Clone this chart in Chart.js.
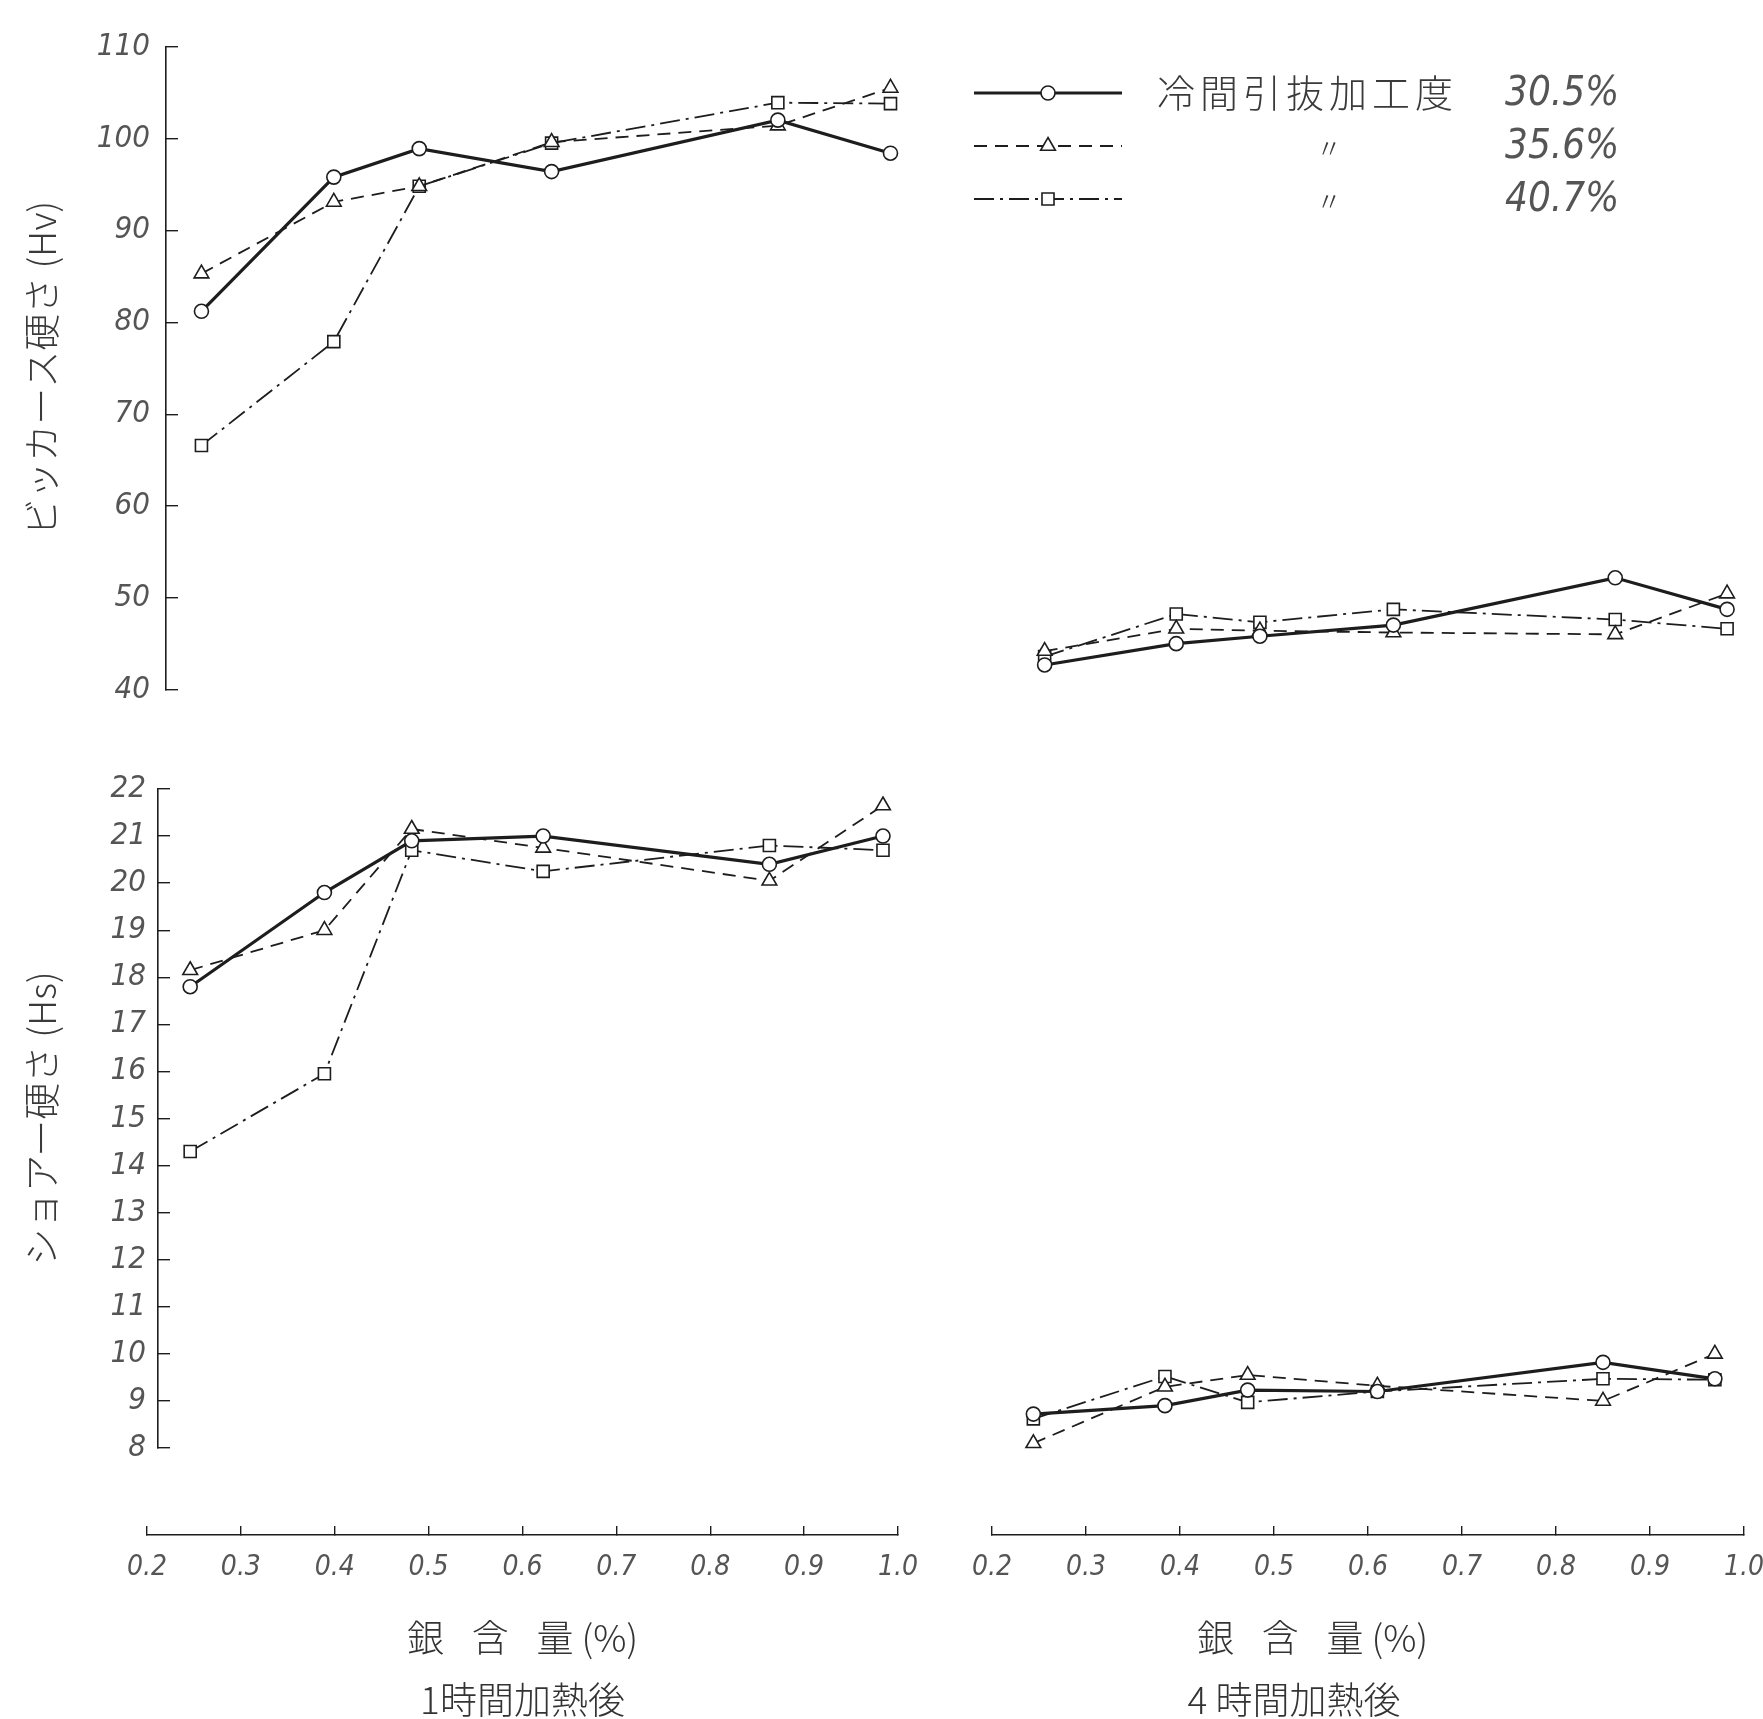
<!DOCTYPE html>
<html>
<head>
<meta charset="utf-8">
<title>銀含量と硬さ</title>
<script src="https://cdn.jsdelivr.net/npm/chart.js@4.4.1/dist/chart.umd.min.js"></script>
<style>
  html, body { margin: 0; padding: 0; background: #fff; overflow: hidden; }
  #sheet { position: relative; width: 1763px; height: 1719px; background: #fff; }
  #sheet canvas { position: absolute; left: 0; top: 0; }
</style>
</head>
<body>
<div id="sheet">
  <canvas id="vick1h" width="1763" height="1719"></canvas>
  <canvas id="vick4h" width="1763" height="1719"></canvas>
  <canvas id="shore1h" width="1763" height="1719"></canvas>
  <canvas id="shore4h" width="1763" height="1719"></canvas>
  <canvas id="axis1h" width="1763" height="1719"></canvas>
  <canvas id="axis4h" width="1763" height="1719"></canvas>
</div>
<script>
// silver content (%) of the specimens, per panel
const silver1hVickers = [0.258, 0.399, 0.490, 0.631, 0.872, 0.992];
const silver4hVickers = [0.256, 0.396, 0.485, 0.627, 0.863, 0.982];
const silver1hShore   = [0.246, 0.389, 0.482, 0.622, 0.863, 0.984];
const silver4hShore   = [0.244, 0.384, 0.472, 0.610, 0.850, 0.969];

// Vickers hardness (Hv) after 1 h / 4 h heating, cold drawing 30.5 / 35.6 / 40.7 %
const vickers1h_305 = [81.2, 95.8, 98.9, 96.4, 102.0, 98.4];
const vickers1h_356 = [85.3, 93.1, 94.8, 99.6, 101.4, 105.5];
const vickers1h_407 = [66.6, 77.9, 94.8, 99.5, 103.9, 103.8];
const vickers4h_305 = [42.7, 45.0, 45.8, 47.0, 52.1, 48.7];
const vickers4h_356 = [44.2, 46.6, 46.4, 46.2, 46.0, 50.4];
const vickers4h_407 = [43.6, 48.2, 47.3, 48.7, 47.6, 46.6];

// Shore hardness (Hs)
const shore1h_305 = [17.8, 19.8, 20.9, 21.0, 20.4, 21.0];
const shore1h_356 = [18.15, 19.0, 21.15, 20.75, 20.05, 21.65];
const shore1h_407 = [14.3, 15.95, 20.7, 20.25, 20.8, 20.7];
const shore4h_305 = [8.72, 8.9, 9.23, 9.2, 9.82, 9.47];
const shore4h_356 = [8.1, 9.3, 9.55, 9.32, 9.0, 10.0];
const shore4h_407 = [8.62, 9.52, 8.97, 9.2, 9.47, 9.45];

const silverTicks  = [0.2, 0.3, 0.4, 0.5, 0.6, 0.7, 0.8, 0.9, 1.0];
const vickersTicks = [40, 50, 60, 70, 80, 90, 100, 110];
const shoreTicks   = [8, 9, 10, 11, 12, 13, 14, 15, 16, 17, 18, 19, 20, 21, 22];

const workRates  = ['30.5%', '35.6%', '40.7%'];
const legendText = ['冷間引抜加工度', '〃', '〃'];

// page geometry (px)
const W = 1763, H = 1719;
const LEFT_SPAN = [147, 898], RIGHT_SPAN = [992, 1744];   // where 0.2 and 1.0 fall
const VICK_BAND = [41, 690], SHORE_BAND = [789, 1448];    // top / bottom of each y axis
const VICK_AXIS_X = 166, SHORE_AXIS_X = 158;
const XAXIS_Y = 1535;
const TITLE_PAD = 18;

const INK = '#1d1d1d';
const GREY = '#555';
const NUM_FONT = '"Liberation Sans Narrow", "DejaVu Sans Condensed", "Liberation Sans", sans-serif';
const CJK_FONT = '"Noto Sans CJK JP", "Noto Sans", sans-serif';

const lineStyles = [
  { width: 3.2, dash: [], point: 'circle', radius: 7 },
  { width: 1.8, dash: [13, 8], point: 'triangle', radius: 8.5 },
  { width: 1.8, dash: [20, 6, 3, 6], point: 'rect', radius: 8.5 }
];

function silverAt(px, span) {
  return 0.2 + (px - span[0]) / (span[1] - span[0]) * 0.8;
}

function makeDatasets(xs, series) {
  return series.map((ys, i) => ({
    label: workRates[i],
    data: xs.map((x, j) => ({ x, y: ys[j] })),
    borderColor: INK,
    backgroundColor: '#fff',
    borderWidth: lineStyles[i].width,
    borderDash: lineStyles[i].dash,
    pointStyle: lineStyles[i].point,
    pointRadius: lineStyles[i].radius,
    pointBorderWidth: 1.6,
    pointBorderColor: INK,
    pointBackgroundColor: '#fff',
    tension: 0,
    fill: false,
    clip: false
  }));
}

function yAxis(min, max, values, title, axisX, labelGap) {
  return {
    type: 'linear', min, max,
    afterBuildTicks: s => { s.ticks = values.map(v => ({ value: v })); },
    afterFit: s => { s.width = axisX - TITLE_PAD; },
    border: { display: true, color: INK, width: 1.6 },
    grid: { drawOnChartArea: false, tickLength: -12, color: INK, lineWidth: 1.4 },
    ticks: { autoSkip: false, padding: labelGap, color: GREY,
             font: { family: NUM_FONT, size: 31, style: 'italic' } },
    title: { display: true, text: title, color: '#3a3a3a',
             font: { family: CJK_FONT, size: 37, weight: '300' },
             padding: { top: 2, bottom: 0 } }
  };
}

const baseOptions = {
  responsive: false,
  animation: false,
  events: [],
  plugins: { legend: { display: false }, tooltip: { enabled: false } }
};

// one data panel; `axis` is given only for the panels that carry a y axis
function panel(id, xs, series, span, band, range, axis, plugins) {
  const showAxis = !!axis;
  const leftPx = showAxis ? axis.x : span[0];
  const scales = {
    x: { type: 'linear', display: false, min: silverAt(leftPx, span), max: 1.0 },
    y: showAxis
      ? yAxis(range[0], range[1], axis.ticks, axis.title, axis.x, axis.gap)
      : { type: 'linear', display: false, min: range[0], max: range[1] }
  };
  return new Chart(document.getElementById(id), {
    type: 'line',
    data: { datasets: makeDatasets(xs, series) },
    options: Object.assign({}, baseOptions, {
      layout: { padding: { left: showAxis ? TITLE_PAD : span[0], right: W - span[1],
                           top: band[0], bottom: H - band[1] } },
      scales
    }),
    plugins: plugins || []
  });
}

function silverAxis(id, span, titleLines) {
  return new Chart(document.getElementById(id), {
    type: 'line',
    data: { datasets: [] },
    options: Object.assign({}, baseOptions, {
      layout: { padding: { left: span[0], right: W - span[1], top: XAXIS_Y - 100, bottom: 0 } },
      scales: {
        x: {
          type: 'linear', position: 'bottom', min: 0.2, max: 1.0,
          afterBuildTicks: s => { s.ticks = silverTicks.map(v => ({ value: v })); },
          afterFit: s => {
            s.height = H - XAXIS_Y;
            // end labels may hang past the axis ends; keep the axis length fixed
            s.paddingLeft = 0;
            s.paddingRight = 0;
          },
          border: { display: true, color: INK, width: 1.6 },
          grid: { drawOnChartArea: false, tickLength: -9, color: INK, lineWidth: 1.4 },
          ticks: { autoSkip: false, maxRotation: 0, padding: 25, color: GREY,
                   font: { family: NUM_FONT, size: 28, style: 'italic' },
                   callback: v => Number(v).toFixed(1) },
          title: { display: true, text: titleLines, color: '#333',
                   font: { family: CJK_FONT, size: 37, weight: '300', lineHeight: 1.68 },
                   padding: { top: 0, bottom: -12 } }
        },
        y: { display: false, min: 0, max: 1 }
      }
    })
  });
}

// legend block drawn in the upper right panel
const LEGEND = { x0: 974, x1: 1122, y0: 93, row: 53, textX: 1157, dittoX: 1329, rateX: 1505 };

function drawMarker(ctx, style, r, x, y) {
  if (Chart.helpers && Chart.helpers.drawPoint) {
    Chart.helpers.drawPoint(ctx, { pointStyle: style, radius: r, borderWidth: 1.6, rotation: 0 }, x, y);
    return;
  }
  ctx.beginPath();
  if (style === 'circle') ctx.arc(x, y, r, 0, Math.PI * 2);
  else if (style === 'rect') { const s = r * Math.SQRT1_2; ctx.rect(x - s, y - s, 2 * s, 2 * s); }
  else { ctx.moveTo(x, y - r); ctx.lineTo(x + r * 0.866, y + r / 2); ctx.lineTo(x - r * 0.866, y + r / 2); ctx.closePath(); }
  ctx.fill(); ctx.stroke();
}

const workLegend = {
  id: 'workLegend',
  afterDraw(chart) {
    const ctx = chart.ctx;
    chart.data.datasets.forEach((ds, i) => {
      const y = LEGEND.y0 + i * LEGEND.row;
      ctx.save();
      ctx.strokeStyle = INK;
      ctx.lineWidth = ds.borderWidth;
      ctx.setLineDash(ds.borderDash);
      ctx.beginPath();
      ctx.moveTo(LEGEND.x0, y);
      ctx.lineTo(LEGEND.x1, y);
      ctx.stroke();
      ctx.setLineDash([]);
      ctx.fillStyle = '#fff';
      ctx.lineWidth = 1.6;
      drawMarker(ctx, ds.pointStyle, ds.pointRadius, (LEGEND.x0 + LEGEND.x1) / 2, y);

      ctx.fillStyle = '#3a3a3a';
      ctx.textBaseline = 'middle';
      if (legendText[i] === '〃') {
        ctx.font = '300 26px ' + CJK_FONT;
        ctx.textAlign = 'center';
        ctx.fillText(legendText[i], LEGEND.dittoX, y + 2);
      } else {
        ctx.font = '300 38px ' + CJK_FONT;
        ctx.textAlign = 'left';
        ctx.letterSpacing = '5px';
        ctx.fillText(legendText[i], LEGEND.textX, y);
        ctx.letterSpacing = '0px';
      }
      ctx.font = 'italic 40px ' + NUM_FONT;
      ctx.textAlign = 'left';
      ctx.fillStyle = GREY;
      ctx.fillText(ds.label, LEGEND.rateX, y + 2);
      ctx.restore();
    });
  }
};

panel('vick1h', silver1hVickers, [vickers1h_305, vickers1h_356, vickers1h_407],
      LEFT_SPAN, VICK_BAND, [40, 110],
      { x: VICK_AXIS_X, ticks: vickersTicks, title: 'ビッカース硬さ (Hv)', gap: 28 });

panel('vick4h', silver4hVickers, [vickers4h_305, vickers4h_356, vickers4h_407],
      RIGHT_SPAN, VICK_BAND, [40, 110], null, [workLegend]);

panel('shore1h', silver1hShore, [shore1h_305, shore1h_356, shore1h_407],
      LEFT_SPAN, SHORE_BAND, [8, 22],
      { x: SHORE_AXIS_X, ticks: shoreTicks, title: 'ショアー硬さ (Hs)', gap: 24 });

panel('shore4h', silver4hShore, [shore4h_305, shore4h_356, shore4h_407],
      RIGHT_SPAN, SHORE_BAND, [8, 22], null);

silverAxis('axis1h', LEFT_SPAN, ['銀\u2002\u2005含\u2002\u2005量 (%)', '1時間加熱後']);
silverAxis('axis4h', RIGHT_SPAN, ['銀\u2002\u2005含\u2002\u2005量 (%)\u3000\u3000\u3000', '4 時間加熱後\u3000\u3000\u3000\u3000']);
</script>
</body>
</html>
